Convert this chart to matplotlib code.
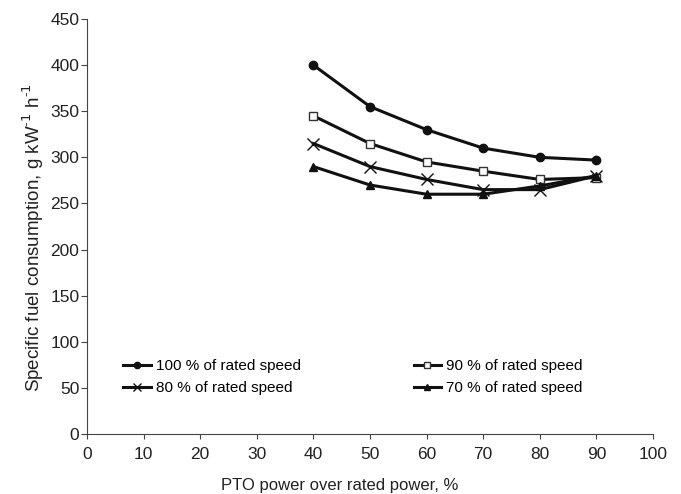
import matplotlib
matplotlib.use('Agg')
import matplotlib.pyplot as plt

plt.rcParams['font.family'] = ['Liberation Sans', 'DejaVu Sans']

# PTO power over rated power, %
pto_power = [40, 50, 60, 70, 80, 90]

# Specific fuel consumption, g kW-1 h-1
sfc_100 = [400, 355, 330, 310, 300, 297]
sfc_90 = [345, 315, 295, 285, 276, 278]
sfc_80 = [315, 290, 276, 265, 265, 280]
sfc_70 = [290, 270, 260, 260, 269, 280]

labels = ['100 % of rated speed', '90 % of rated speed',
          '80 % of rated speed', '70 % of rated speed']

x_ticks = list(range(0, 101, 10))
y_ticks = list(range(0, 451, 50))

fig = plt.figure(figsize=(6.81, 4.94), dpi=100)
ax = fig.add_axes([0.1278, 0.1215, 0.831, 0.84])

c = '#111111'
l100, = ax.plot(pto_power, sfc_100, color=c, lw=2.2, marker='o', ms=6)
l90, = ax.plot(pto_power, sfc_90, color=c, lw=2.2, marker='s', ms=6,
               mfc='white', mec='#333333', mew=1)
l80, = ax.plot(pto_power, sfc_80, color=c, lw=2.2, marker='x', ms=8, mew=1)
l70, = ax.plot(pto_power, sfc_70, color=c, lw=2.2, marker='^', ms=6)

ax.set_xlim(0, 100)
ax.set_ylim(0, 450)
ax.set_xticks(x_ticks)
ax.set_yticks(y_ticks)
ax.spines['top'].set_visible(False)
ax.spines['right'].set_visible(False)
ax.spines['left'].set_color('#444444')
ax.spines['bottom'].set_color('#444444')
ax.tick_params(axis='both', labelsize=12.5, color='#444444', colors='#222222')
ax.tick_params(axis='x', length=3.5, pad=6)
ax.tick_params(axis='y', length=4.5, pad=1)

ax.set_xlabel('PTO power over rated power, %', fontsize=12, color='#222222')
ax.xaxis.set_label_coords(0.447, -0.105)
ax.set_ylabel('Specific fuel consumption, g kW$^{\\mathregular{\u2010}1}$ h$^{\\mathregular{\u2010}1}$',
              fontsize=13.5, color='#222222')
ax.yaxis.set_label_coords(-0.072, 0.472)

ax.legend([l100, l80, l90, l70], [labels[0], labels[2], labels[1], labels[3]],
          ncol=2, frameon=False, fontsize=11, loc='lower left',
          bbox_to_anchor=(0.04, 0.06), columnspacing=7.4, handlelength=1.8,
          handletextpad=0.3, labelspacing=0.55, markerscale=0.75)

fig.savefig('out.png', dpi=100)
